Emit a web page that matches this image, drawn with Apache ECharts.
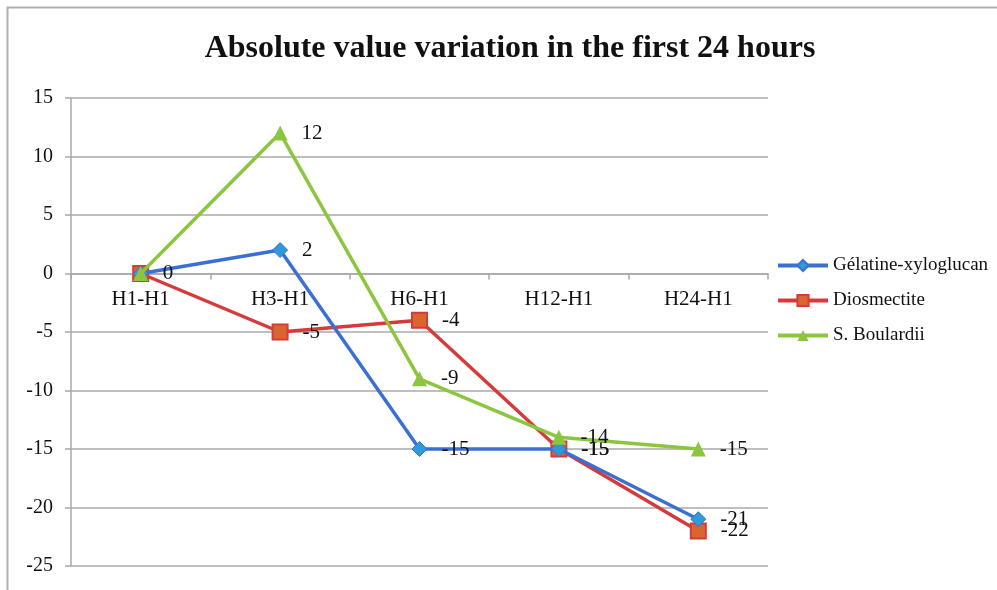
<!DOCTYPE html>
<html><head><meta charset="utf-8">
<script src="https://cdn.jsdelivr.net/npm/echarts@6/dist/echarts.min.js"></script>
<style>html,body{margin:0;padding:0;background:#fff}#c{width:997px;height:590px}</style>
</head><body><div id="c"></div>
<script>
const categories = ['H1-H1','H3-H1','H6-H1','H12-H1','H24-H1'];
const gelatine = [0, 2, -15, -15, -21];
const diosmectite = [0, -5, -4, -15, -22];
const boulardii = [0, 12, -9, -14, -15];
const seriesNames = ['Gélatine-xyloglucan','Diosmectite','S. Boulardii'];
const yTicks = {min: -25, max: 15, interval: 5};

const font = '"Liberation Serif", "DejaVu Serif", serif';
const gridTop = 98, gridBottom = 24, H = 590;
const plotH = H - gridTop - gridBottom;
const zeroOffset = -plotH * (0 - yTicks.min) / (yTicks.max - yTicks.min);

const chart = echarts.init(document.getElementById('c'));
const lbl = {show: true, position: 'right', distance: 14, color: '#111', fontFamily: font, fontSize: 21};
chart.setOption({
  animation: false,
  title: {text: 'Absolute value variation in the first 24 hours', left: 505, textAlign: 'center', top: 28,
    textStyle: {fontFamily: font, fontSize: 32, fontWeight: 'bold', color: '#111'}},
  graphic: [{type: 'rect', shape: {x: 7.5, y: 7.5, width: 1000, height: 600}, style: {fill: 'none', stroke: '#b0b0b0', lineWidth: 2}, silent: true}],
  legend: {orient: 'vertical', left: 771, top: 251, itemGap: 16, itemWidth: 50, itemHeight: 14,
    lineStyle: {width: 4},
    textStyle: {fontFamily: font, fontSize: 19, color: '#111'},
    data: seriesNames},
  grid: {left: 71, right: 229, top: gridTop, bottom: gridBottom},
  xAxis: {type: 'category', data: categories, boundaryGap: true, offset: zeroOffset,
    axisLine: {onZero: false, lineStyle: {color: '#a8a8a8', width: 1.5}},
    axisTick: {show: true, inside: false, length: 6, lineStyle: {color: '#a8a8a8', width: 1.5}},
    axisLabel: {fontFamily: font, fontSize: 21, color: '#111', margin: 15},
    splitLine: {show: false}},
  yAxis: {type: 'value', min: yTicks.min, max: yTicks.max, interval: yTicks.interval,
    axisLine: {show: true, lineStyle: {color: '#a8a8a8', width: 1.5}},
    axisTick: {show: true, length: 6, lineStyle: {color: '#a8a8a8', width: 1.5}},
    axisLabel: {fontFamily: font, fontSize: 20, color: '#111', margin: 18},
    splitLine: {show: true, lineStyle: {color: '#a8a8a8', width: 1.5}}},
  series: [
    {name: seriesNames[0], type: 'line', data: gelatine, symbol: 'diamond', symbolSize: 15,
      lineStyle: {color: '#3b6fd4', width: 3.5}, itemStyle: {color: '#2e9ad8', borderColor: '#3b6fd4', borderWidth: 1}, label: lbl, z: 3},
    {name: seriesNames[1], type: 'line', data: diosmectite, symbol: 'rect', symbolSize: 15,
      lineStyle: {color: '#d63a3a', width: 3.5}, itemStyle: {color: '#d9662e', borderColor: '#d63a3a', borderWidth: 2},
      label: Object.assign({}, lbl, {formatter: p => p.dataIndex === 0 ? '' : p.value}), z: 2},
    {name: seriesNames[2], type: 'line', data: boulardii, symbol: 'triangle', symbolSize: 15,
      lineStyle: {color: '#8cc63f', width: 3.5}, itemStyle: {color: '#8cc63f'},
      label: Object.assign({}, lbl, {formatter: p => p.dataIndex === 0 ? '' : p.value}), z: 4}
  ]
});
</script></body></html>
